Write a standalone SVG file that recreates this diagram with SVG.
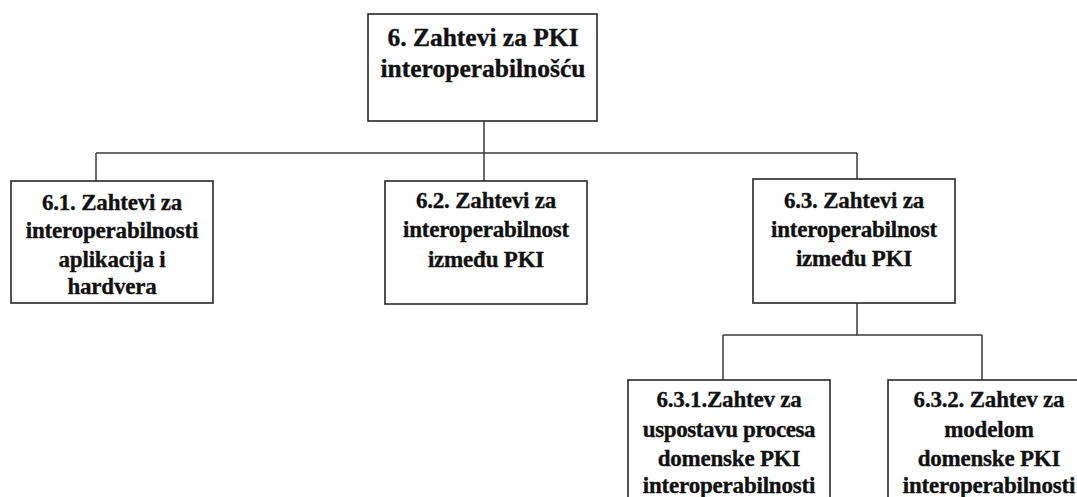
<svg xmlns="http://www.w3.org/2000/svg" width="1077" height="497" viewBox="0 0 1077 497">
  <style>
    .box { fill: #ffffff; stroke: #262626; stroke-width: 1.6; }
    .wire { fill: none; stroke: #3a3a3a; stroke-width: 1.5; }
    text { stroke: #111111; stroke-width: 0.35; }
  </style>
  <rect width="1077" height="497" fill="#ffffff"/>

  <!-- tree connectors -->
  <g id="connectors">
    <path class="wire" d="M484 121 V153 M96 153 H857 M96 153 V181 M484 153 V181 M857 153 V179"/>
    <path class="wire" d="M857 303 V335 M723 335 H982 M723 335 V380 M982 335 V380"/>
  </g>

  <g id="node-6">
    <rect class="box" x="368" y="14" width="229" height="107"/>
    <text x="483" y="46" font-family="Liberation Serif" font-weight="bold" font-size="25.5" text-anchor="middle" fill="#111">6. Zahtevi za PKI</text>
    <text x="483" y="77" font-family="Liberation Serif" font-weight="bold" font-size="25.5" text-anchor="middle" fill="#111">interoperabilnošću</text>
  </g>

  <g id="node-6-1">
    <rect class="box" x="11" y="181" width="202" height="122"/>
    <text x="112" y="210" font-family="Liberation Serif" font-weight="bold" font-size="23" text-anchor="middle" fill="#111" letter-spacing="-0.2">6.1. Zahtevi za</text>
    <text x="112" y="238" font-family="Liberation Serif" font-weight="bold" font-size="23" text-anchor="middle" fill="#111" letter-spacing="-0.2">interoperabilnosti</text>
    <text x="112" y="267" font-family="Liberation Serif" font-weight="bold" font-size="23" text-anchor="middle" fill="#111" letter-spacing="-0.2">aplikacija i</text>
    <text x="112" y="294" font-family="Liberation Serif" font-weight="bold" font-size="23" text-anchor="middle" fill="#111" letter-spacing="-0.2">hardvera</text>
  </g>

  <g id="node-6-2">
    <rect class="box" x="385" y="181" width="202" height="123"/>
    <text x="486" y="208" font-family="Liberation Serif" font-weight="bold" font-size="23" text-anchor="middle" fill="#111" letter-spacing="-0.2">6.2. Zahtevi za</text>
    <text x="486" y="237" font-family="Liberation Serif" font-weight="bold" font-size="23" text-anchor="middle" fill="#111" letter-spacing="-0.2">interoperabilnost</text>
    <text x="486" y="267" font-family="Liberation Serif" font-weight="bold" font-size="23" text-anchor="middle" fill="#111" letter-spacing="-0.2">između PKI</text>
  </g>

  <g id="node-6-3">
    <rect class="box" x="753" y="179" width="202" height="124"/>
    <text x="854" y="208" font-family="Liberation Serif" font-weight="bold" font-size="23" text-anchor="middle" fill="#111" letter-spacing="-0.2">6.3. Zahtevi za</text>
    <text x="854" y="237" font-family="Liberation Serif" font-weight="bold" font-size="23" text-anchor="middle" fill="#111" letter-spacing="-0.2">interoperabilnost</text>
    <text x="854" y="266" font-family="Liberation Serif" font-weight="bold" font-size="23" text-anchor="middle" fill="#111" letter-spacing="-0.2">između PKI</text>
  </g>

  <g id="node-6-3-1">
    <rect class="box" x="628" y="380" width="202" height="130"/>
    <text x="729" y="407" font-family="Liberation Serif" font-weight="bold" font-size="23" text-anchor="middle" fill="#111" letter-spacing="-0.2">6.3.1.Zahtev za</text>
    <text x="729" y="437" font-family="Liberation Serif" font-weight="bold" font-size="23" text-anchor="middle" fill="#111" letter-spacing="-0.4">uspostavu procesa</text>
    <text x="729" y="466" font-family="Liberation Serif" font-weight="bold" font-size="23" text-anchor="middle" fill="#111" letter-spacing="-0.2">domenske PKI</text>
    <text x="729" y="493" font-family="Liberation Serif" font-weight="bold" font-size="23" text-anchor="middle" fill="#111" letter-spacing="-0.2">interoperabilnosti</text>
  </g>

  <g id="node-6-3-2">
    <rect class="box" x="888" y="380" width="202" height="130"/>
    <text x="989" y="407" font-family="Liberation Serif" font-weight="bold" font-size="23" text-anchor="middle" fill="#111" letter-spacing="-0.2">6.3.2. Zahtev za</text>
    <text x="989" y="437" font-family="Liberation Serif" font-weight="bold" font-size="23" text-anchor="middle" fill="#111" letter-spacing="-0.2">modelom</text>
    <text x="989" y="466" font-family="Liberation Serif" font-weight="bold" font-size="23" text-anchor="middle" fill="#111" letter-spacing="-0.2">domenske PKI</text>
    <text x="989" y="493" font-family="Liberation Serif" font-weight="bold" font-size="23" text-anchor="middle" fill="#111" letter-spacing="-0.2">interoperabilnosti</text>
  </g>
</svg>
